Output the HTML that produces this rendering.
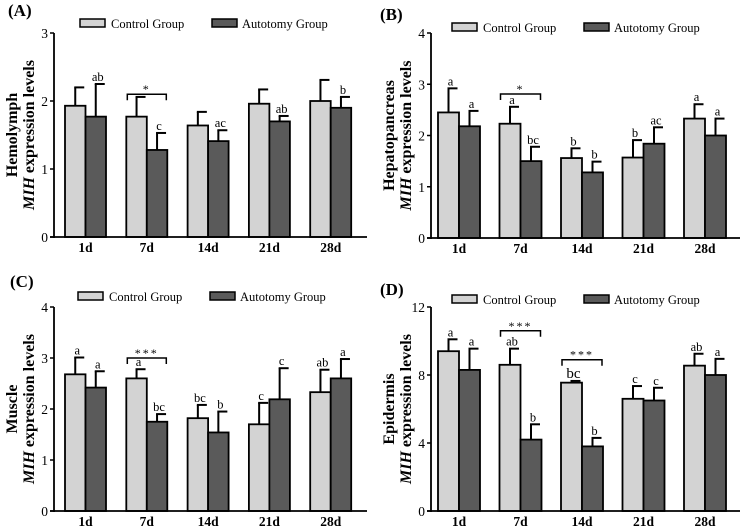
<!DOCTYPE html>
<html><head><meta charset="utf-8"><style>
html,body{margin:0;padding:0;background:#fff}
svg text{font-family:"Liberation Serif",serif}
</style></head><body>
<svg id="fig" width="740" height="526" viewBox="0 0 740 526" xmlns="http://www.w3.org/2000/svg"></svg>
<script>
const categories = ["1d","7d","14d","21d","28d"];
const aCtrl = [1.93,1.77,1.64,1.96,2.00];
const aCtrlErr = [2.20,2.06,1.84,2.17,2.31];
const aAuto = [1.77,1.28,1.41,1.70,1.90];
const aAutoErr = [2.25,1.53,1.57,1.78,2.06];
const aCtrlLet = ["","","","",""];
const aAutoLet = ["ab","c","ac","ab","b"];
const bCtrl = [2.45,2.23,1.56,1.57,2.33];
const bCtrlErr = [2.92,2.56,1.75,1.91,2.61];
const bAuto = [2.18,1.50,1.28,1.84,2.00];
const bAutoErr = [2.48,1.78,1.49,2.16,2.33];
const bCtrlLet = ["a","a","b","b","a"];
const bAutoLet = ["a","bc","b","ac","a"];
const cCtrl = [2.68,2.60,1.82,1.70,2.33];
const cCtrlErr = [3.01,2.78,2.08,2.12,2.77];
const cAuto = [2.42,1.75,1.54,2.19,2.60];
const cAutoErr = [2.74,1.90,1.95,2.80,2.98];
const cCtrlLet = ["a","a","bc","c","ab"];
const cAutoLet = ["a","bc","b","c","a"];
const dCtrl = [9.4,8.6,7.55,6.6,8.55];
const dCtrlErr = [10.1,9.55,7.65,7.35,9.25];
const dAuto = [8.3,4.2,3.8,6.5,8.0];
const dAutoErr = [9.55,5.1,4.3,7.25,8.95];
const dCtrlLet = ["a","ab","bc","c","ab"];
const dAutoLet = ["a","b","b","c","a"];
const aTicks = [0,1,2,3];
const bTicks = [0,1,2,3,4];
const cTicks = [0,1,2,3,4];
const dTicks = [0,4,8,12];

const NS="http://www.w3.org/2000/svg";
const svg=document.getElementById('fig');
function mk(tag,attrs,parent,txt){const e=document.createElementNS(NS,tag);for(const k in attrs)e.setAttribute(k,attrs[k]);if(txt!==undefined)e.textContent=txt;(parent||svg).appendChild(e);return e;}

function panel(p){
  const g=mk('g',{});
  
  
  const ymax=p.ticks[p.ticks.length-1];
  const y=v=>p.y0-(p.y0-p.yTop)*v/ymax;
  const x=i=>p.x0+p.gap*i;
  const bw=p.bw;
  const lb=mk('text',{x:p.lx,y:p.ly,'font-size':17,'font-weight':'bold'},g,'('+p.id+')');
  
  
  const l1=mk('rect',{x:p.legX,y:p.legY-4,width:25,height:8,fill:'#d3d3d3',stroke:'#000','stroke-width':1.5},g);
  
  
  const t1=mk('text',{x:p.legX+31,y:p.legY+5,'font-size':12.5},g,'Control Group');
  
  
  const l2=mk('rect',{x:p.legX+132,y:p.legY-4,width:25,height:8,fill:'#5a5a5a',stroke:'#000','stroke-width':1.5},g);
  
  
  const t2=mk('text',{x:p.legX+162,y:p.legY+5,'font-size':12.5},g,'Autotomy Group');
  
  
  const cy=(p.y0+p.yTop)/2;
  const yt=mk('text',{x:0,y:0,'font-size':16,'font-weight':'bold','text-anchor':'middle',transform:`translate(${p.ax-37},${cy}) rotate(-90)`},g,p.title);
  
  
  const yt2=mk('text',{x:0,y:0,'font-size':16,'font-weight':'bold','text-anchor':'middle',transform:`translate(${p.ax-20},${cy}) rotate(-90)`},g);
  
  
  mk('tspan',{'font-style':'italic'},yt2,'MIH');
  mk('tspan',{},yt2,' expression levels');
  for(let i=0;i<categories.length;i++){
    const sets=[[p.ctrl,p.ctrlErr,p.ctrlLet,'#d3d3d3','control'],[p.auto,p.autoErr,p.autoLet,'#5a5a5a','autotomy']];
    sets.forEach((s,j)=>{
      const bx=x(i)+j*bw, top=y(s[0][i]), et=y(s[1][i]);
      const cx=bx+bw/2;
      const el=mk('line',{x1:cx,x2:cx,y1:top,y2:et,stroke:'#000','stroke-width':2},g);
      
      
      mk('line',{x1:cx-1,x2:cx+9,y1:et,y2:et,stroke:'#000','stroke-width':2},g);
      const r=mk('rect',{x:bx,y:top,width:bw,height:p.y0-top,fill:s[3],stroke:'#000','stroke-width':1.8},g);
      
      
      if(s[2][i]){
        const lt=mk('text',{x:cx+2,y:et-3,'font-size':s[2][i]==='bc'&&p.id==='D'&&i===2?15:12.5,'text-anchor':'middle'},g,s[2][i]);
        
        
      }
    });
  }
  p.brackets.forEach(b=>{
    const by=y(b[1]), x1=x(b[0])+1, x2=x(b[0])+2*bw-1;
    const br=mk('path',{d:`M${x1},${by+6}V${by}H${x2}V${by+6}`,fill:'none',stroke:'#000','stroke-width':1.5},g);
    
    
    const st=mk('text',{x:(x1+x2)/2,y:by-1,'font-size':12,'text-anchor':'middle','letter-spacing':'2'},g,b[2]);
    
    
  });
  const ya=mk('line',{x1:p.ax,x2:p.ax,y1:p.yTop,y2:p.y0+1,stroke:'#000','stroke-width':1.8},g);
  
  
  const xa=mk('line',{x1:p.ax-4,x2:p.xEnd,y1:p.y0,y2:p.y0,stroke:'#000','stroke-width':1.8},g);
  
  
  p.ticks.forEach(t=>{
    mk('line',{x1:p.ax-4,x2:p.ax,y1:y(t),y2:y(t),stroke:'#000','stroke-width':1.5},g);
    const tl=mk('text',{x:p.ax-6,y:y(t)+5,'font-size':13.5,'text-anchor':'end'},g,t);
    
    
  });
  categories.forEach((c,i)=>{
    const tl=mk('text',{x:x(i)+bw,y:p.y0+15,'font-size':13.5,'font-weight':'bold','text-anchor':'middle'},g,c);
    
    
  });
}

panel({id:'A',ax:54,x0:65,gap:61.3,bw:20.5,y0:237,yTop:33,xEnd:367,ticks:aTicks,lx:8,ly:16,legX:80,legY:23,
  title:'Hemolymph',ctrl:aCtrl,ctrlErr:aCtrlErr,auto:aAuto,autoErr:aAutoErr,ctrlLet:aCtrlLet,autoLet:aAutoLet,brackets:[[1,2.1,'*']]});
panel({id:'B',ax:431,x0:438,gap:61.5,bw:21,y0:238,yTop:33,xEnd:740,ticks:bTicks,lx:380,ly:20,legX:452,legY:27,
  title:'Hepatopancreas',ctrl:bCtrl,ctrlErr:bCtrlErr,auto:bAuto,autoErr:bAutoErr,ctrlLet:bCtrlLet,autoLet:bAutoLet,brackets:[[1,2.81,'*']]});
panel({id:'C',ax:54,x0:65,gap:61.3,bw:20.5,y0:511,yTop:307,xEnd:367,ticks:cTicks,lx:10,ly:287,legX:78,legY:296,
  title:'Muscle',ctrl:cCtrl,ctrlErr:cCtrlErr,auto:cAuto,autoErr:cAutoErr,ctrlLet:cCtrlLet,autoLet:cAutoLet,brackets:[[1,3.0,'***']]});
panel({id:'D',ax:431,x0:438,gap:61.5,bw:21,y0:511,yTop:307,xEnd:740,ticks:dTicks,lx:380,ly:295,legX:452,legY:299,
  title:'Epidermis',ctrl:dCtrl,ctrlErr:dCtrlErr,auto:dAuto,autoErr:dAutoErr,ctrlLet:dCtrlLet,autoLet:dAutoLet,brackets:[[1,10.6,'***'],[2,8.9,'***']]});
</script>
</body></html>
